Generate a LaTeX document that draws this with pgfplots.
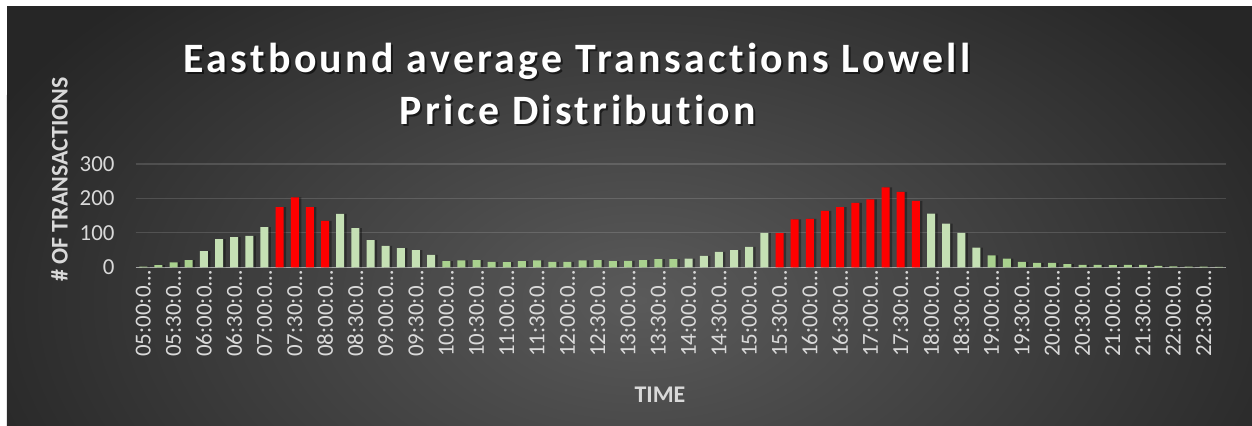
\documentclass[border=0pt]{standalone}
\usepackage{pgfplots}
\usepackage{pgfplotstable}
\pgfplotsset{compat=1.18}
\usetikzlibrary{backgrounds}
\usepackage{fontspec}
\setmainfont{Carlito}[Ligatures=NoCommon]
\newfontfamily\titlefont{Carlito}[LetterSpace=8, Ligatures=NoCommon]
\definecolor{bgin}{HTML}{5A5A5A}
\definecolor{bgout}{HTML}{262626}
\definecolor{redbar}{HTML}{FF0000}
\definecolor{lgreen}{HTML}{C5E0B4}
\definecolor{dgreen}{HTML}{A9D18E}
\definecolor{tickc}{HTML}{D9D9D9}
\definecolor{axisc}{HTML}{A6A6A6}
\pgfdeclareradialshading{bgshade}{\pgfpoint{0bp}{0bp}}{color(0bp)=(bgin); color(25bp)=(bgout); color(50bp)=(bgout)}

\pgfplotstableread{
x y
0 2
1 6
2 14
3 21
20 18
21 20
22 21
23 16
24 15
25 18
26 20
27 16
28 16
29 20
30 21
31 18
32 19
33 21
34 24
35 24
56 35
57 25
58 16
59 13
60 13
61 9
62 7
63 7
64 6
65 7
66 7
67 4
68 3
69 2
70 2
71 1
}\tabD
\pgfplotstableread{
x y
4 47
5 82
6 88
7 91
8 117
13 155
14 114
15 79
16 62
17 56
18 50
19 36
36 25
37 33
38 45
39 50
40 59
41 100
52 156
53 127
54 100
55 57
}\tabL
\pgfplotstableread{
x y
9 175
10 203
11 175
12 135
42 99
43 139
44 141
45 164
46 175
47 187
48 197
49 232
50 219
51 193
}\tabR

\begin{document}
\begin{tikzpicture}[x=1bp,y=1bp]
\begin{axis}[
  name=ax,
  scale only axis, width=1090.8bp, height=103.3bp,
  xmin=-0.5, xmax=71.5, ymin=0, ymax=300,
  axis x line*=bottom, axis y line*=left,
  x axis line style={draw=axisc, line width=1.5bp, -},
  y axis line style={draw=none},
  ytick={0,100,200,300},
  xtick={0,2,...,70},
  xticklabels={05:00:0…,05:30:0…,06:00:0…,06:30:0…,07:00:0…,07:30:0…,08:00:0…,08:30:0…,09:00:0…,09:30:0…,10:00:0…,10:30:0…,11:00:0…,11:30:0…,12:00:0…,12:30:0…,13:00:0…,13:30:0…,14:00:0…,14:30:0…,15:00:0…,15:30:0…,16:00:0…,16:30:0…,17:00:0…,17:30:0…,18:00:0…,18:30:0…,19:00:0…,19:30:0…,20:00:0…,20:30:0…,21:00:0…,21:30:0…,22:00:0…,22:30:0…},
  major tick length=0pt,
  /pgf/number format/assume math mode=true,
  ymajorgrids, grid style={draw=white, draw opacity=0.14, line width=1.2bp},
  tick label style={font=\fontsize{23}{23}\selectfont, text=tickc},
  yticklabel style={anchor=east, inner sep=0pt, xshift=-21bp},
  xticklabel style={anchor=east, inner sep=0pt, yshift=-3bp, rotate=90},
  ybar, bar width=8bp,
]
\addplot[fill=black, fill opacity=0.35, draw=none, bar shift=2.5bp] table {\tabD};
\addplot[fill=black, fill opacity=0.35, draw=none, bar shift=2.5bp] table {\tabL};
\addplot[fill=black, fill opacity=0.35, draw=none, bar shift=2.5bp] table {\tabR};
\addplot[fill=dgreen, draw=none, bar shift=0pt] table {\tabD};
\addplot[fill=lgreen, draw=none, bar shift=0pt] table {\tabL};
\addplot[fill=redbar, draw=none, bar shift=0pt] table {\tabR};
\end{axis}

\begin{scope}[shift={(ax.south west)}, xshift=-135.7bp, yshift=-157.7bp]
  \begin{scope}[on background layer]
    \fill[white] (0,0) rectangle (1252,425);
    \begin{scope}
      \clip (7,0) rectangle (1252,419);
      \fill[bgout] (7,0) rectangle (1252,419);
      \shade[shading=bgshade] (640,125) ellipse [x radius=720, y radius=430];
    \end{scope}
  \end{scope}
  % title with shadow
  \node[anchor=base, font=\titlefont\bfseries\fontsize{42}{42}\selectfont, text=black, opacity=0.55] at (579,351) {Eastbound average Transactions Lowell};
  \node[anchor=base, font=\titlefont\bfseries\fontsize{42}{42}\selectfont, text=white] at (577,353) {Eastbound average Transactions Lowell};
  \node[anchor=base, font=\titlefont\bfseries\fontsize{42}{42}\selectfont, text=black, opacity=0.55] at (580,299) {Price Distribution};
  \node[anchor=base, font=\titlefont\bfseries\fontsize{42}{42}\selectfont, text=white] at (578,301) {Price Distribution};
  % axis titles
  \node[rotate=90, font=\bfseries\fontsize{24}{24}\selectfont, text=tickc] at (59.5,245.5) {\# OF TRANSACTIONS};
  \node[font=\bfseries\fontsize{24}{24}\selectfont, text=tickc] at (660,30) {TIME};
  \coordinate (BL) at (0,0);
  \coordinate (TR) at (1252,425);
\end{scope}
\pgfresetboundingbox
\useasboundingbox (BL) rectangle (TR);
\end{tikzpicture}
\end{document}
